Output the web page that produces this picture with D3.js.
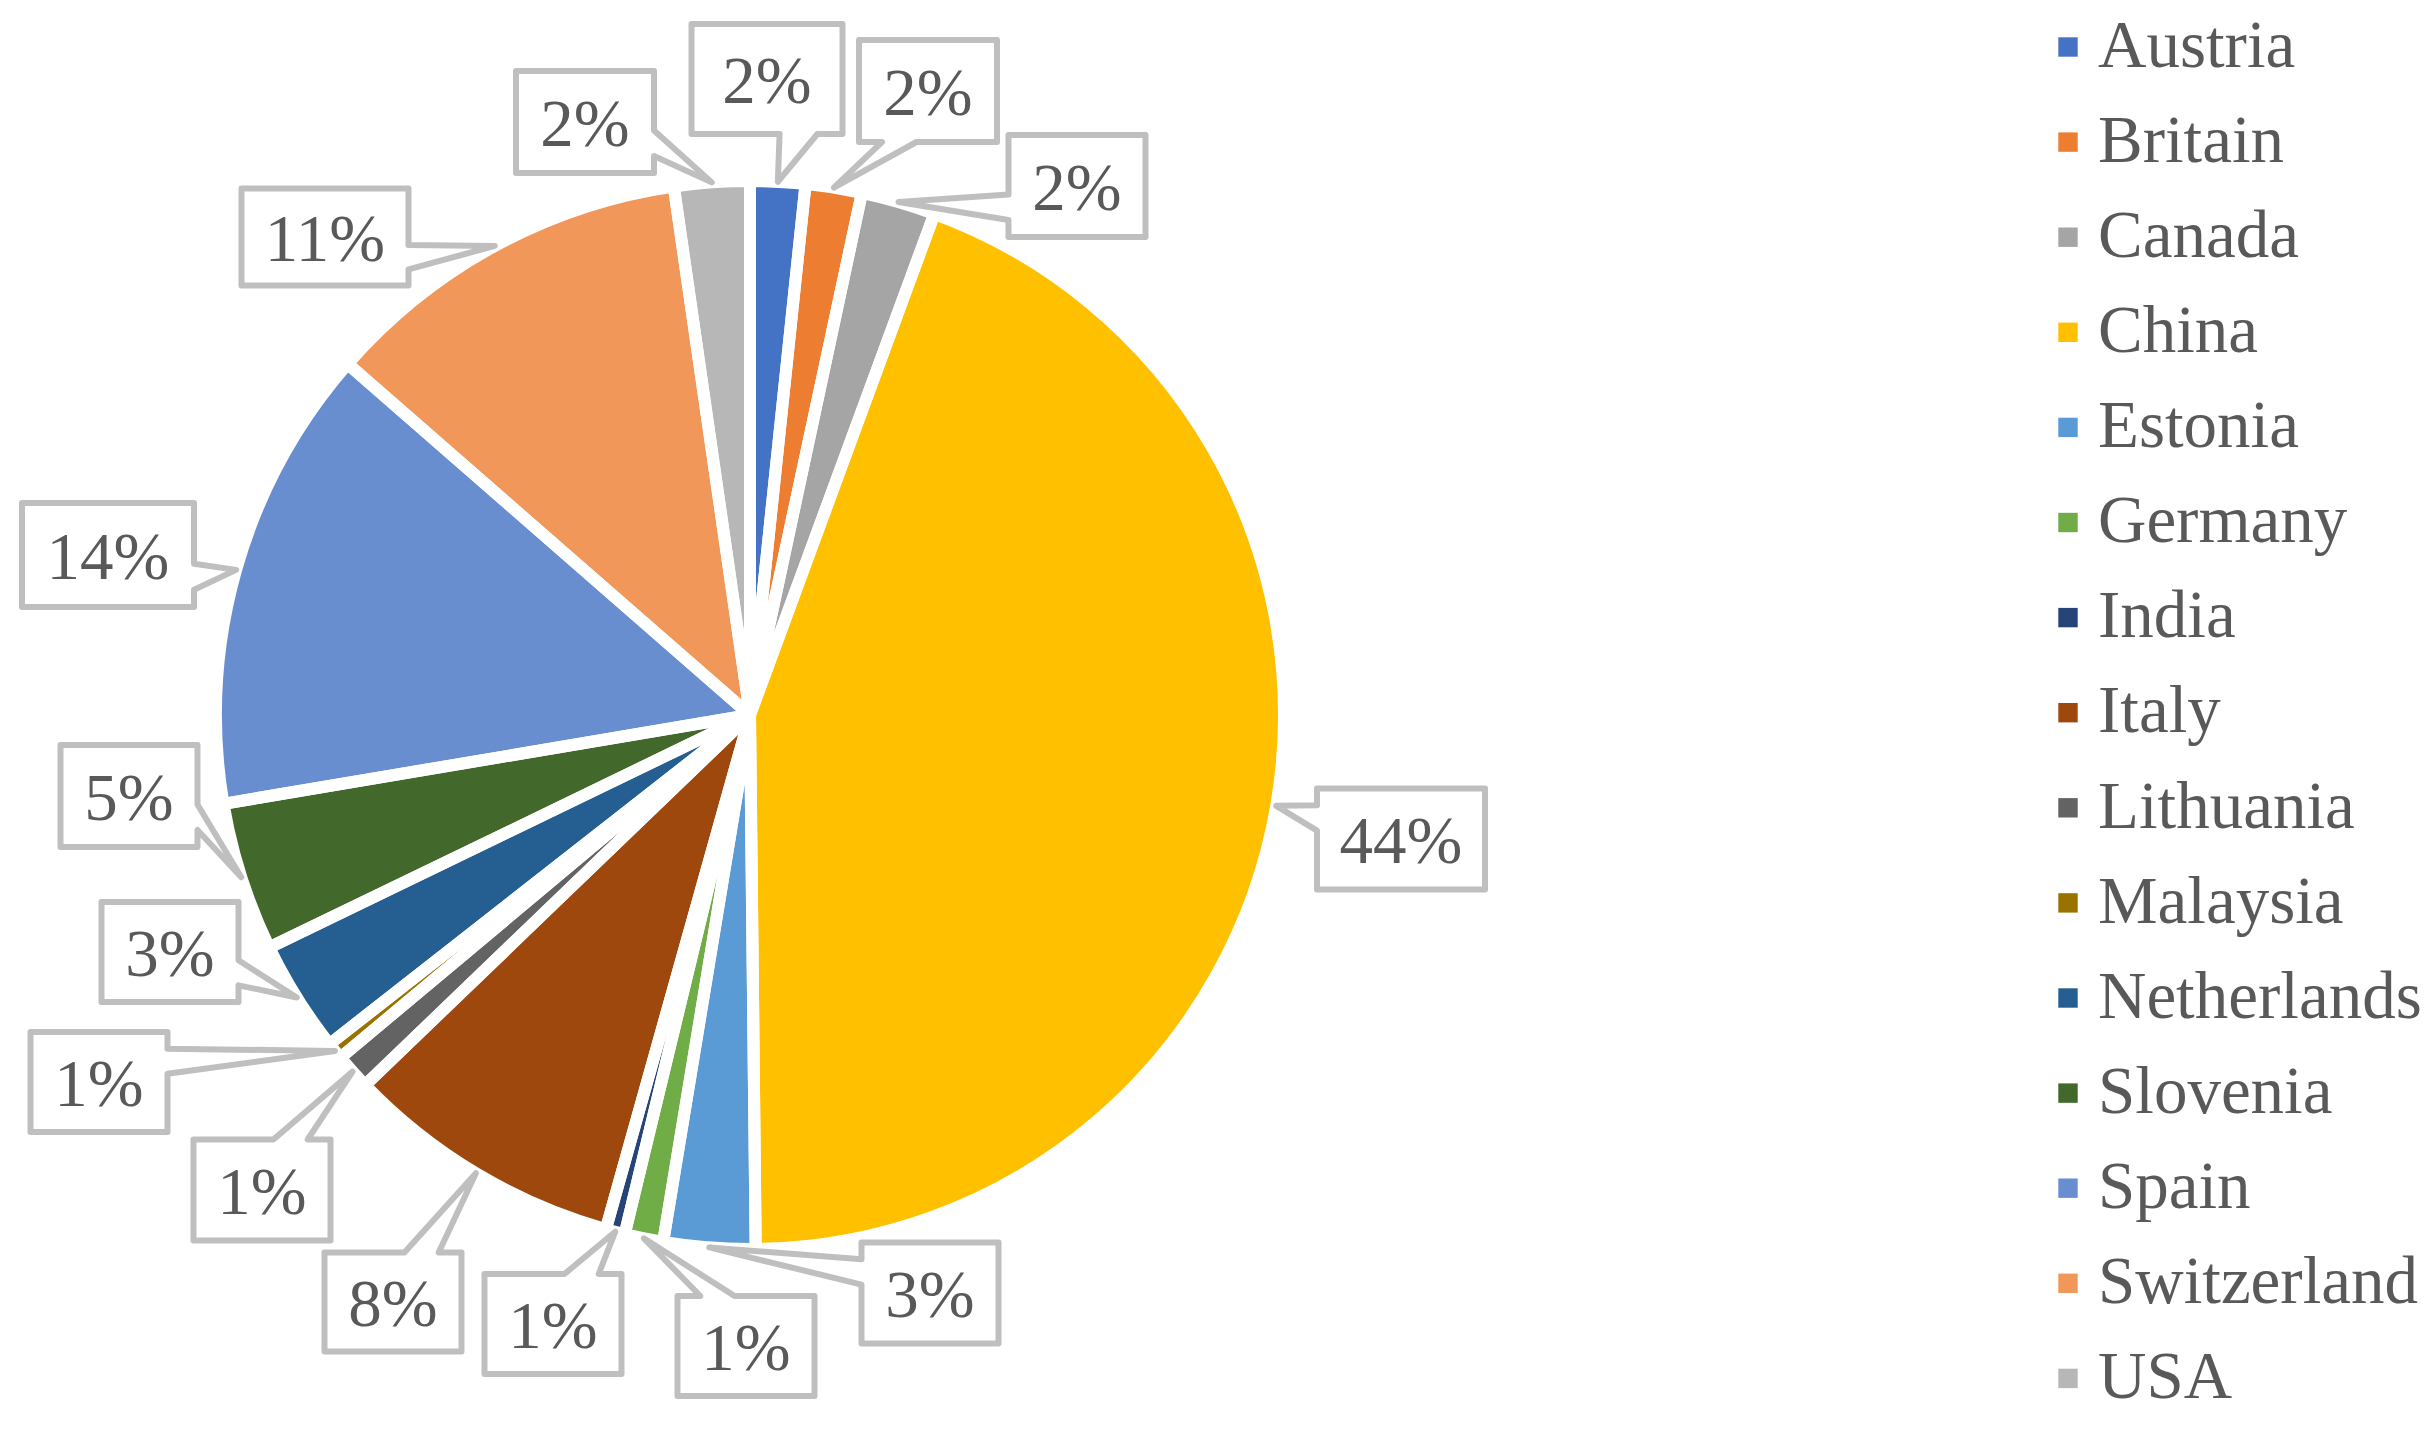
<!DOCTYPE html>
<html>
<head>
<meta charset="utf-8">
<script src="https://cdn.jsdelivr.net/npm/d3@7"></script>
<style>
  html, body { margin: 0; padding: 0; background: #ffffff; }
  svg { display: block; }
</style>
</head>
<body>
<svg id="chart" width="2434" height="1431"></svg>
<script>
// ---------- data ----------
const countries = ["Austria","Britain","Canada","China","Estonia","Germany","India","Italy","Lithuania","Malaysia","Netherlands","Slovenia","Spain","Switzerland","USA"];
const shares    = [1.66, 1.70, 2.25, 44.22, 2.77, 1.17, 0.58, 8.46, 1.10, 0.52, 3.40, 4.51, 14.08, 11.30, 2.28];
const colors    = ["#4472C4","#ED7D31","#A5A5A5","#FFC000","#5B9BD5","#70AD47","#264478","#9E480E","#636363","#997300","#255E91","#43682B","#698ED0","#F1975A","#B7B7B7"];

// ---------- layout ----------
const CX = 750, CY = 715, R = 534;
// callout boxes: [centerX, centerY, width, height]
const labelBoxes = [
  [767, 79, 151, 110],    // Austria
  [928, 91, 138, 102],    // Britain
  [1077, 186, 137, 102],  // Canada
  [1401, 839, 168, 101],  // China
  [930, 1293, 137, 101],  // Estonia
  [746, 1346, 137, 100],  // Germany
  [553, 1324, 137, 100],  // India
  [393, 1302, 137, 99],   // Italy
  [262, 1190, 137, 101],  // Lithuania
  [99, 1082, 137, 100],   // Malaysia
  [170, 952, 137, 100],   // Netherlands
  [129, 796, 137, 102],   // Slovenia
  [108, 555, 172, 104],   // Spain
  [325, 237, 167, 97],    // Switzerland
  [585, 122, 138, 102]    // USA
];
const FONT = "'Liberation Serif','Times New Roman',serif";
const FONT_SIZE = 67;
const TEXT_COLOR = "#595959";
const CALLOUT_COLOR = "#BFBFBF";

const svg = d3.select("#chart");
const total = d3.sum(shares);
const pct = d3.format(".0%");

const data = countries.map((c, i) => ({ name: c, value: shares[i], color: colors[i], box: labelBoxes[i] }));

const pie = d3.pie().sort(null).value(d => d.value).startAngle(0).endAngle(2 * Math.PI);
const arcs = pie(data);
const arc = d3.arc().innerRadius(0).outerRadius(R);

const g = svg.append("g").attr("transform", `translate(${CX},${CY})`);
// fills
g.selectAll("path.fill").data(arcs).join("path")
  .attr("class", "fill")
  .attr("d", arc)
  .attr("fill", d => d.data.color);
// white borders drawn on top of all fills
g.selectAll("path.border").data(arcs).join("path")
  .attr("class", "border")
  .attr("d", arc)
  .attr("fill", "none")
  .attr("stroke", "#ffffff")
  .attr("stroke-width", 12)
  .attr("stroke-linejoin", "round");

// wedge-rect callout (OOXML wedgeRectCallout geometry)
function calloutPath(box, tip) {
  const [bx, by, w, h] = box;
  const l = bx - w / 2, t = by - h / 2, r = bx + w / 2, b = by + h / 2;
  const dxPos = tip[0] - bx, dyPos = tip[1] - by;
  const dq = dxPos * h / w;
  const dz = Math.abs(dyPos) - Math.abs(dq);
  const x1 = l + w * (dxPos > 0 ? 7 : 2) / 12, x2 = l + w * (dxPos > 0 ? 10 : 5) / 12;
  const y1 = t + h * (dyPos > 0 ? 7 : 2) / 12, y2 = t + h * (dyPos > 0 ? 10 : 5) / 12;
  const xP = tip[0], yP = tip[1];
  const xl = dz > 0 ? l : (dxPos > 0 ? l : xP);
  const yl = dz > 0 ? y1 : (dxPos > 0 ? y1 : yP);
  const xt = dz > 0 ? (dyPos > 0 ? x1 : xP) : x1;
  const yt = dz > 0 ? (dyPos > 0 ? t : yP) : t;
  const xr = dz > 0 ? r : (dxPos > 0 ? xP : r);
  const yr = dz > 0 ? y1 : (dxPos > 0 ? yP : y1);
  const xb = dz > 0 ? (dyPos > 0 ? xP : x1) : x1;
  const yb = dz > 0 ? (dyPos > 0 ? yP : b) : b;
  const p = d3.path();
  p.moveTo(l, t); p.lineTo(x1, t); p.lineTo(xt, yt); p.lineTo(x2, t); p.lineTo(r, t);
  p.lineTo(r, y1); p.lineTo(xr, yr); p.lineTo(r, y2); p.lineTo(r, b);
  p.lineTo(x2, b); p.lineTo(xb, yb); p.lineTo(x1, b); p.lineTo(l, b);
  p.lineTo(l, y2); p.lineTo(xl, yl); p.lineTo(l, y1); p.closePath();
  return p.toString();
}

const labels = svg.append("g");
arcs.forEach(a => {
  const mid = (a.startAngle + a.endAngle) / 2;
  const tip = [CX + R * Math.sin(mid), CY - R * Math.cos(mid)];
  const box = a.data.box;
  labels.append("path")
    .attr("d", calloutPath(box, tip))
    .attr("fill", "#ffffff")
    .attr("stroke", CALLOUT_COLOR)
    .attr("stroke-width", 6)
    .attr("stroke-linejoin", "round");
  labels.append("text")
    .attr("x", box[0])
    .attr("y", box[1] + 24)
    .attr("text-anchor", "middle")
    .attr("font-family", FONT)
    .attr("font-size", FONT_SIZE)
    .attr("fill", TEXT_COLOR)
    .text(pct(a.data.value / total));
});

// legend
const legend = svg.append("g");
const legY = d3.scalePoint().domain(countries).range([47, 47 + 95.1 * (countries.length - 1)]);
countries.forEach((c, i) => {
  const y = legY(c);
  legend.append("rect")
    .attr("x", 2058.3).attr("y", y - 9.7)
    .attr("width", 19.4).attr("height", 19.4)
    .attr("fill", colors[i]);
  legend.append("text")
    .attr("x", 2098).attr("y", y + 19.7)
    .attr("font-family", FONT)
    .attr("font-size", FONT_SIZE)
    .attr("fill", TEXT_COLOR)
    .text(c);
});
</script>
</body>
</html>
